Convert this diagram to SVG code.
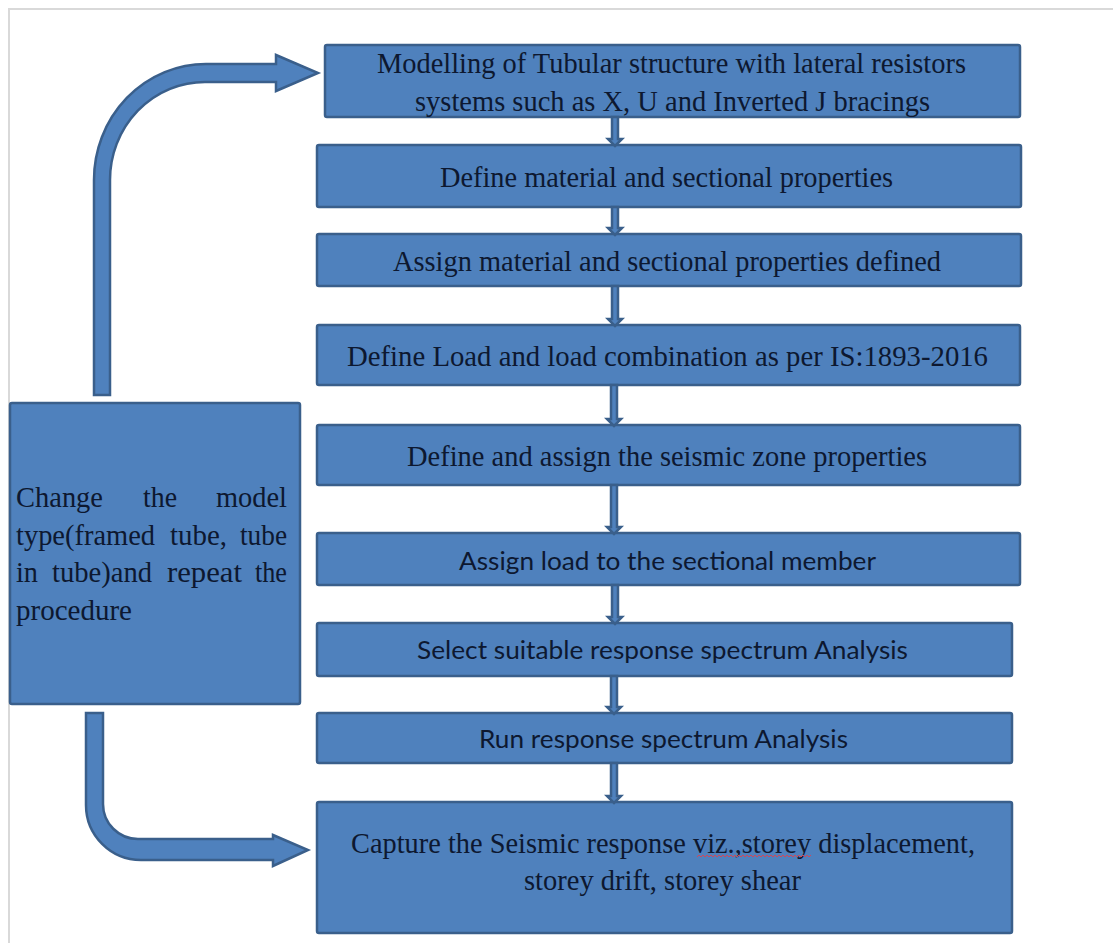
<svg xmlns="http://www.w3.org/2000/svg" width="1113" height="943" viewBox="0 0 1113 943">
<style>
.box{fill:#4F81BD;stroke:#3A5F8B;stroke-width:2.5}
.arr{fill:#4F81BD;stroke:#3A5F8B;stroke-width:2.5;stroke-linejoin:miter}
.serif{font-family:"Liberation Serif","Times New Roman",serif;font-size:30px;fill:#0D1830}
.sans{font-family:Lato,"Open Sans","Liberation Sans",sans-serif;font-size:25px;fill:#0D1830}
</style>
<rect x="0" y="0" width="1113" height="943" fill="#FFFFFF"/>
<path d="M9 943 V9 H1113" fill="none" stroke="#D9D9D9" stroke-width="2"/>

<g id="loop-arrows">
<path class="arr" d="M94 395 V180 A112 116 0 0 1 206 64 H276 V55 L318 73 L276 91 V82 H205 A95 98 0 0 0 110 180 V395 Z"/>
<path class="arr" d="M86 713 V805 A55 55 0 0 0 141 860 H273 V866 L308 850 L273 835 V839 H138 A35 35 0 0 1 103 804 V713 Z"/>
</g>

<g id="n1"><rect class="box" x="325" y="45" width="695" height="72" rx="2"/>
<text class="serif" x="377" y="73" textLength="589" lengthAdjust="spacingAndGlyphs">Modelling of Tubular structure with lateral resistors</text>
<text class="serif" x="415" y="111" textLength="515" lengthAdjust="spacingAndGlyphs">systems such as X, U and Inverted J bracings</text></g>

<g id="n2"><rect class="box" x="317" y="145" width="704" height="62" rx="2"/>
<text class="serif" x="440" y="187" textLength="453" lengthAdjust="spacingAndGlyphs">Define material and sectional properties</text></g>

<g id="n3"><rect class="box" x="317" y="234" width="704" height="52" rx="2"/>
<text class="serif" x="393" y="271" textLength="548" lengthAdjust="spacingAndGlyphs">Assign material and sectional properties defined</text></g>

<g id="n4"><rect class="box" x="317" y="325" width="703" height="60" rx="2"/>
<text class="serif" x="347" y="366" textLength="641" lengthAdjust="spacingAndGlyphs">Define Load and load combination as per IS:1893-2016</text></g>

<g id="n5"><rect class="box" x="317" y="425" width="703" height="60" rx="2"/>
<text class="serif" x="407" y="466" textLength="520" lengthAdjust="spacingAndGlyphs">Define and assign the seismic zone properties</text></g>

<g id="n6"><rect class="box" x="317" y="533" width="703" height="52" rx="2"/>
<text class="sans" x="459" y="570" textLength="417" lengthAdjust="spacingAndGlyphs">Assign load to the sectional member</text></g>

<g id="n7"><rect class="box" x="317" y="623" width="695" height="53" rx="2"/>
<text class="sans" x="417" y="659" textLength="491" lengthAdjust="spacingAndGlyphs">Select suitable response spectrum Analysis</text></g>

<g id="n8"><rect class="box" x="317" y="713" width="695" height="50" rx="2"/>
<text class="sans" x="479" y="748" textLength="369" lengthAdjust="spacingAndGlyphs">Run response spectrum Analysis</text></g>

<g id="n9"><rect class="box" x="317" y="802" width="695" height="131" rx="2"/>
<text class="serif" x="351" y="853" textLength="624" lengthAdjust="spacingAndGlyphs">Capture the Seismic response viz.,storey displacement,</text>
<text class="serif" x="524" y="890" textLength="277" lengthAdjust="spacingAndGlyphs">storey drift, storey shear</text>
<path d="M697 857 l2 -2 l2 2 l2 -2 l2 2 l2 -2 l2 2 l2 -2 l2 2 l2 -2 l2 2 l2 -2 l2 2 l2 -2 l2 2 l2 -2 l2 2 l2 -2 l2 2 l2 -2 l2 2 l2 -2 l2 2 l2 -2 l2 2 l2 -2 l2 2 l2 -2 l2 2 l2 -2 l2 2 l2 -2 l2 2 l2 -2 l2 2 l2 -2 l2 2 l2 -2 l2 2 l2 -2 l2 2 l2 -2 l2 2 l2 -2 l2 2 l2 -2 l2 2 l2 -2 l2 2 l2 -2 l2 2 l2 -2 l2 2 l2 -2 l2 2 l2 -2 l2 2 l2 -2" fill="none" stroke="#D0485A" stroke-width="1"/></g>

<g id="n10"><rect class="box" x="10" y="403" width="290" height="301" rx="2"/>
<g class="serif">
<text x="16" y="507" textLength="87" lengthAdjust="spacingAndGlyphs">Change</text>
<text x="143" y="507" textLength="34" lengthAdjust="spacingAndGlyphs">the</text>
<text x="216" y="507" textLength="71" lengthAdjust="spacingAndGlyphs">model</text>
<text x="16" y="545" textLength="139" lengthAdjust="spacingAndGlyphs">type(framed</text>
<text x="170" y="545" textLength="57" lengthAdjust="spacingAndGlyphs">tube,</text>
<text x="240" y="545" textLength="47" lengthAdjust="spacingAndGlyphs">tube</text>
<text x="16" y="582" textLength="22" lengthAdjust="spacingAndGlyphs">in</text>
<text x="52" y="582" textLength="100" lengthAdjust="spacingAndGlyphs">tube)and</text>
<text x="167" y="582" textLength="75" lengthAdjust="spacingAndGlyphs">repeat</text>
<text x="255" y="582" textLength="32" lengthAdjust="spacingAndGlyphs">the</text>
<text x="16" y="620" textLength="116" lengthAdjust="spacingAndGlyphs">procedure</text>
</g></g>

<g id="connectors">
<path class="arr" d="M612 117 V139 H608 L615 146 L622 139 H618 V117 Z"/>
<path class="arr" d="M612 207 V228 H608 L615 235 L622 228 H618 V207 Z"/>
<path class="arr" d="M612 286 V319 H608 L615 326 L622 319 H618 V286 Z"/>
<path class="arr" d="M611 385 V419 H607 L614 426 L621 419 H617 V385 Z"/>
<path class="arr" d="M611 485 V527 H607 L614 534 L621 527 H617 V485 Z"/>
<path class="arr" d="M612 585 V617 H608 L615 624 L622 617 H618 V585 Z"/>
<path class="arr" d="M611 676 V707 H607 L614 714 L621 707 H617 V676 Z"/>
<path class="arr" d="M611 763 V796 H607 L614 803 L621 796 H617 V763 Z"/>
</g>
</svg>
